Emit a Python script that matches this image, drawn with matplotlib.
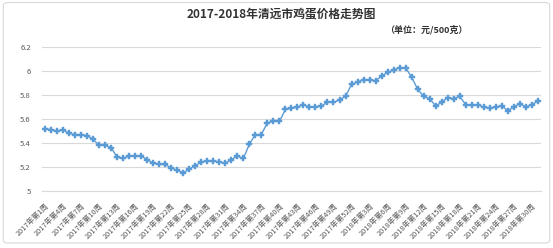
import matplotlib
matplotlib.use('Agg')
import matplotlib.pyplot as plt
from matplotlib.patches import FancyBboxPatch

plt.rcParams['font.family'] = ['Noto Sans CJK SC', 'DejaVu Sans']

weeks_2017 = list(range(1, 53))
weeks_2018 = list(range(1, 32))
categories = [f'2017年第{w}周' for w in weeks_2017] + [f'2018年第{w}周' for w in weeks_2018]

prices = [
    5.52, 5.51, 5.50, 5.51, 5.48, 5.47, 5.47, 5.46, 5.43, 5.38,
    5.38, 5.36, 5.28, 5.27, 5.29, 5.29, 5.29, 5.26, 5.23, 5.22,
    5.22, 5.19, 5.17, 5.15, 5.18, 5.21, 5.24, 5.25, 5.25, 5.24,
    5.23, 5.26, 5.29, 5.27, 5.39, 5.47, 5.47, 5.57, 5.58, 5.58,
    5.68, 5.69, 5.70, 5.72, 5.70, 5.70, 5.71, 5.74, 5.74, 5.76,
    5.79, 5.89, 5.91, 5.93, 5.93, 5.92, 5.96, 5.99, 6.01, 6.03,
    6.03, 5.95, 5.85, 5.79, 5.77, 5.71, 5.74, 5.78, 5.77, 5.79,
    5.72, 5.72, 5.72, 5.70, 5.69, 5.70, 5.71, 5.67, 5.70, 5.73,
    5.70, 5.72, 5.75,
]

fig = plt.figure(figsize=(5.53, 2.48), dpi=100)
fig.patch.set_facecolor('white')

# outer chart border like excel
border = FancyBboxPatch((0.006, 0.02), 0.988, 0.97, boxstyle='round,pad=0,rounding_size=0.01',
                        transform=fig.transFigure, fill=False, edgecolor='#d9d9d9', linewidth=0.8)
fig.patches.append(border)

ax = fig.add_axes([0.076, 0.231, 0.902, 0.578])
x = list(range(len(prices)))
ax.plot(x, prices, color='#5b9bd5', linewidth=1.0, marker='P', markersize=4.2,
        markerfacecolor='#5b9bd5', markeredgecolor='#5b9bd5', markeredgewidth=0.3)

ax.set_xlim(-0.5, len(prices) - 0.5)
ax.set_ylim(5, 6.2)
ax.set_yticks([5, 5.2, 5.4, 5.6, 5.8, 6, 6.2])
ax.set_yticklabels(['5', '5.2', '5.4', '5.6', '5.8', '6', '6.2'])
ax.grid(axis='y', color='#d9d9d9', linewidth=0.8)
ax.set_axisbelow(True)
for s in ['top', 'right', 'left']:
    ax.spines[s].set_visible(False)
ax.spines['bottom'].set_color('#d9d9d9')
ax.spines['bottom'].set_linewidth(0.8)

tick_pos = x[::3]
ax.set_xticks(tick_pos)
ax.set_xticklabels([categories[i] for i in tick_pos], rotation=45, ha='right',
                   rotation_mode='anchor', fontsize=5.3, color='#595959')
ax.tick_params(axis='x', length=0, pad=8)
ax.tick_params(axis='y', length=0, labelsize=5.5, labelcolor='#595959', pad=8)

fig.text(0.508, 0.945, '2017-2018年清远市鸡蛋价格走势图', ha='center', va='center',
         fontsize=8.5, fontweight='bold', color='#333333')
fig.text(0.77, 0.88, '（单位：元/500克）', ha='center', va='center',
         fontsize=6.5, fontweight='bold', color='#333333')

fig.savefig('out.png', dpi=100)
